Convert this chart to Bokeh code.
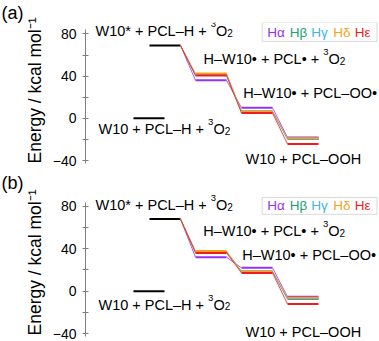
from bokeh.plotting import figure
from bokeh.models import Label, BoxAnnotation, FixedTicker, Range1d, Title
from bokeh.layouts import column
from bokeh.embed import file_html
from bokeh.resources import INLINE

# ---------------- data ----------------
series = ["Hα", "Hβ", "Hγ", "Hδ", "Hε"]
colors = ["#9932f0", "#1aa074", "#41b4e6", "#f5a11c", "#f21c1c"]

# state labels, split into (text, kind) pieces: n = normal, sup / sub
state_labels = [
    [("W10* + PCL–H + ", "n"), ("3", "sup"), ("O", "n"), ("2", "sub")],
    [("W10 + PCL–H + ", "n"), ("3", "sup"), ("O", "n"), ("2", "sub")],
    [("H–W10• + PCL• + ", "n"), ("3", "sup"), ("O", "n"), ("2", "sub")],
    [("H–W10• + PCL–OO•", "n")],
    [("W10 + PCL–OOH", "n")],
]

# panel (a)
a_ground = 0.0
a_excited = 69.0
a_L1 = [36.0, 41.5, 41.0, 42.5, 40.5]
a_L2 = [10.0, 6.5, 6.5, 6.5, 5.0]
a_L3 = [-18.1, -19.5, -19.3, -18.8, -24.3]

# panel (b)
b_ground = 0.0
b_excited = 68.0
b_L1 = [32.0, 37.0, 37.0, 37.8, 36.0]
b_L2 = [22.0, 18.5, 18.5, 18.6, 17.2]
b_L3 = [-5.3, -7.5, -7.0, -6.3, -12.2]

y_ticks = [-40, 0, 40, 80]
y_minor = [-20, 20, 60]

# ---------------- layout ----------------
ground_pos = 0.652
step_pos = [1, 2, 3, 4]
hw = 0.337
W = 379
LB = 85
TB = 21
FONT = "Liberation Sans"
MAIN, SUP, SUB = 14.5, 9.5, 10.0
DY = {"n": 1.8, "sup": 8.8, "sub": 0.2}

# Arial / Liberation Sans advance widths (per 1000 em)
AW = {"W": 944, "1": 556, "0": 556, "*": 389, " ": 278, "+": 584, "P": 667,
      "C": 722, "L": 556, "–": 556, "H": 722, "O": 778, "•": 350,
      "3": 556, "2": 556}


def tw(s, size):
    return sum(AW.get(ch, 556) for ch in s) * size / 1000.0


def rx(ref_x):
    return 1 + (ref_x - 164.5) / 46.0


def make_panel(tag, ground, excited, L1, L2, L3, c, k, off, H,
               lab_refs, box_y, leg_y, ylab_off):
    def ry(ref_y):
        return (c - ref_y) / k

    p = figure(width=W, height=H, output_backend="svg", toolbar_location=None,
               x_axis_location=None, x_range=Range1d(rx(LB), rx(W)),
               y_range=Range1d(ry(off + H), ry(off + TB)), min_border_left=LB,
               min_border_right=0, min_border_top=TB, min_border_bottom=0,
               title=tag)
    p.outline_line_color = None
    p.grid.visible = False
    p.background_fill_color = "white"
    p.border_fill_color = "white"

    p.title.align = "left"
    p.title.offset = -LB + 1
    p.title.standoff = 0
    p.title.text_font = FONT
    p.title.text_font_style = "normal"
    p.title.text_font_size = "18px"
    p.title.text_color = "black"

    ylab = Title(text="Energy / kcal mol⁻¹", align="left", offset=ylab_off,
                 standoff=9, text_font=FONT, text_font_style="normal",
                 text_font_size="17.5px", text_color="black")
    p.add_layout(ylab, "left")

    ax = p.yaxis[0]
    ax.ticker = FixedTicker(ticks=y_ticks, minor_ticks=y_minor)
    ax.bounds = (-43, 84)
    ax.major_label_overrides = {-40: "−40"}
    ax.major_label_text_font = FONT
    ax.major_label_text_font_size = "14px"
    ax.major_label_text_color = "black"
    ax.major_label_standoff = 6
    ax.major_tick_in = 3
    ax.major_tick_out = 3
    ax.minor_tick_in = 3
    ax.minor_tick_out = 3
    for attr in ["axis_line_color", "major_tick_line_color", "minor_tick_line_color"]:
        setattr(ax, attr, "#808080")

    # black levels
    p.segment(x0=[ground_pos - hw, step_pos[0] - hw], y0=[ground, excited],
              x1=[ground_pos + hw, step_pos[0] + hw], y1=[ground, excited],
              line_color="black", line_width=2)

    levels = [L1, L2, L3]
    for s in range(len(series)):
        ys = [excited] + [lv[s] for lv in levels]
        p.segment(x0=[step_pos[i] + hw for i in range(3)], y0=ys[:3],
                  x1=[step_pos[i + 1] - hw for i in range(3)], y1=ys[1:],
                  line_color=colors[s], line_width=1, line_alpha=0.8)
    for s in range(len(series)):
        p.segment(x0=[step_pos[i + 1] - hw for i in range(3)],
                  y0=[lv[s] for lv in levels],
                  x1=[step_pos[i + 1] + hw for i in range(3)],
                  y1=[lv[s] for lv in levels],
                  line_color=colors[s], line_width=2)

    # state labels
    sizes = {"n": MAIN, "sup": SUP, "sub": SUB}
    for parts, (lx, ly) in zip(state_labels, lab_refs):
        dx = 0.0
        for t, kind in parts:
            size = sizes[kind]
            p.add_layout(Label(x=rx(lx), y=ry(ly), x_offset=dx, y_offset=DY[kind],
                               text=t, text_font=FONT, text_font_size=f"{size}px",
                               text_baseline="alphabetic", text_align="left",
                               text_color="black"))
            dx += tw(t, size)

    # legend box
    p.add_layout(BoxAnnotation(left=rx(261.7), right=rx(376.5),
                               top=ry(box_y[0]), bottom=ry(box_y[1]),
                               fill_color="white", fill_alpha=1.0,
                               line_color="#808080", line_width=1))
    leg_x = [266.7, 289.3, 310.7, 332.7, 354.3]
    for name, col, lx in zip(series, colors, leg_x):
        p.add_layout(Label(x=rx(lx), y=ry(leg_y), text=name, text_font=FONT,
                           text_font_size="13.5px", text_baseline="middle",
                           text_align="left", text_color=col))
    return p


pa = make_panel("(a)", a_ground, a_excited, a_L1, a_L2, a_L3,
                117.5, 1.0625, 0, 170,
                [(95, 31.5), (98, 130.5), (203, 60), (242.7, 93.3), (245, 160)],
                (21, 40), 31, 7)
pb = make_panel("(b)", b_ground, b_excited, b_L1, b_L2, b_L3,
                290.3, 1.067, 170, 171,
                [(95, 205.3), (98, 305.7), (202.7, 232), (241.7, 255.3), (245, 333.3)],
                (196, 213), 204.5, 6)

layout = column(pa, pb, spacing=0)
open("out.html", "w").write(file_html(layout, INLINE))
